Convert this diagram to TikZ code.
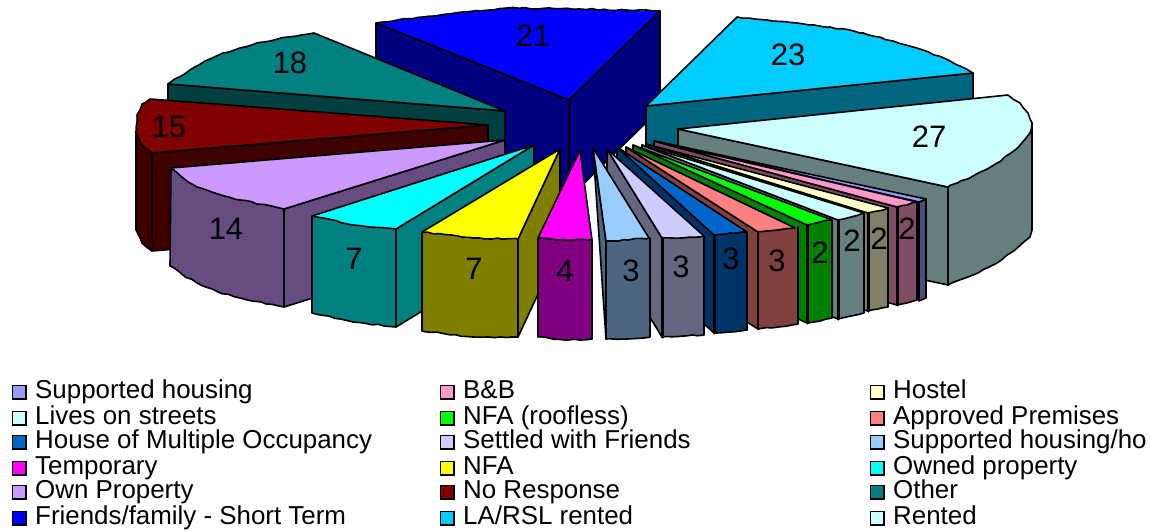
\documentclass[tikz,border=0pt]{standalone}
\usepackage{fontspec}
\usetikzlibrary{decorations.pathmorphing}
\setmainfont{Liberation Sans}
\definecolor{cA}{HTML}{9999FF}\definecolor{cAd}{HTML}{4C4C80}
\definecolor{cB}{HTML}{FF99CC}\definecolor{cBd}{HTML}{804C66}
\definecolor{cC}{HTML}{FFFFCC}\definecolor{cCd}{HTML}{808066}
\definecolor{cD}{HTML}{CCFFFF}\definecolor{cDd}{HTML}{667F7F}
\definecolor{cE}{HTML}{00FF00}\definecolor{cEd}{HTML}{008000}
\definecolor{cF}{HTML}{FF8080}\definecolor{cFd}{HTML}{804040}
\definecolor{cG}{HTML}{0066CC}\definecolor{cGd}{HTML}{003366}
\definecolor{cH}{HTML}{CCCCFF}\definecolor{cHd}{HTML}{666680}
\definecolor{cI}{HTML}{99CCFF}\definecolor{cId}{HTML}{4C6680}
\definecolor{cJ}{HTML}{FF00FF}\definecolor{cJd}{HTML}{800080}
\definecolor{cK}{HTML}{FFFF00}\definecolor{cKd}{HTML}{808000}
\definecolor{cL}{HTML}{00FFFF}\definecolor{cLd}{HTML}{008080}
\definecolor{cM}{HTML}{CC99FF}\definecolor{cMd}{HTML}{664C80}
\definecolor{cN}{HTML}{800000}\definecolor{cNd}{HTML}{400000}
\definecolor{cO}{HTML}{008080}\definecolor{cOd}{HTML}{004040}
\definecolor{cP}{HTML}{0000FF}\definecolor{cPd}{HTML}{000080}
\definecolor{cQ}{HTML}{00CCFF}\definecolor{cQd}{HTML}{006680}
\tikzset{
  wedge/.style={draw=black,line width=1.6pt,line join=round},
  edgeline/.style={draw=black,line width=1.6pt,line join=round,line cap=round},
  jagline/.style={draw=black,line width=1.6pt,line join=round,decorate,decoration={random steps,segment length=6pt,amplitude=.7pt}},
  thickedge/.style={draw=black,line width=3pt,line cap=round},
  val/.style={font=\fontsize{31}{31}\selectfont,inner sep=0pt},
  legbox/.style={draw=black,line width=1.5pt,minimum size=13.5pt,inner sep=0pt},
  legtxt/.style={font=\fontsize{25.9}{26}\selectfont,inner sep=0pt,anchor=base west}
}
% colour, apex, first, arc list, last
\newcommand\topw[5]{%
  \fill[#1] #2 -- plot coordinates {#4} -- cycle;
  \draw[edgeline] #3 -- #2 -- #5;
  \draw[jagline] plot coordinates {#4};}
% colour, top first, top list, top last, bottom under last, bottom list (reversed), bottom under first
\newcommand\outw[7]{%
  \fill[#1] plot coordinates {#3} -- plot coordinates {#6} -- cycle;
  \draw[edgeline] #4 -- #5;
  \draw[edgeline] #7 -- #2;
  \draw[jagline] plot coordinates {#6};}
\begin{document}
\begin{tikzpicture}[x=1pt,y=-1pt]
\pgfmathsetseed{7}
\useasboundingbox (0,0) rectangle (1150,531);
% 21
\fill[wedge,fill=cPd] (376,23)--(569,100)--(569,198)--(376,121)--cycle;
\fill[wedge,fill=cPd] (569,100)--(660,11)--(660,109)--(569,198)--cycle;
\topw{cP}{(569,100)}{(376,23)}{(376,23)(440,15)(507,8)(580,9)(660,11)}{(660,11)}
% 23
\fill[wedge,fill=cQd] (646,106)--(973,73)--(973,171)--(646,204)--cycle;
\topw{cQ}{(646,106)}{(737,17)}{(737,17)(767,20)(797,23)(830,27)(863,33)(893,41)(923,50)(950,61)(973,73)}{(973,73)}
% 27
\fill[wedge,fill=cDd] (678,129)--(948,187)--(948,285)--(678,227)--cycle;
\outw{cDd}{(1032,123)}{(1032,123)(1030,133)(1015,150)(997,163)(973,176)(948,187)}{(948,187)}{(948,285)}{(948,285)(973,275)(997,263)(1015,250)(1030,237)(1032,230)}{(1032,230)}
\topw{cD}{(678,129)}{(1008,95)}{(1008,95)(1020,103)(1028,113)(1032,123)(1030,133)(1015,150)(997,163)(973,176)(948,187)}{(948,187)}
% 18
\fill[wedge,fill=cOd] (168,84)--(505,111)--(505,209)--(168,182)--cycle;
\topw{cO}{(505,111)}{(314,33)}{(314,33)(288,37)(263,42)(223,53)(205,61)(190,70)(168,84)}{(168,84)}
% 15
\fill[wedge,fill=cNd] (152,153)--(488,125)--(488,223)--(152,251)--cycle;
\outw{cNd}{(136,133)}{(136,133)(142,145)(152,153)}{(152,153)}{(152,251)}{(152,251)(142,243)(136,230)}{(136,230)}
\topw{cN}{(488,125)}{(150,99)}{(150,99)(142,104)(137,115)(136,133)(142,145)(152,153)}{(152,153)}
% 14
\fill[wedge,fill=cMd] (284,209)--(505,140)--(505,238)--(284,307)--cycle;
\outw{cMd}{(171,168)}{(171,168)(183,178)(197,187)(218,194)(240,200)(284,209)}{(284,209)}{(284,307)}{(284,307)(240,298)(218,292)(197,283)(183,275)(170,266)}{(170,266)}
\topw{cM}{(505,140)}{(171,168)}{(171,168)(183,178)(197,187)(218,194)(240,200)(284,209)}{(284,209)}
% 7 cyan
\fill[wedge,fill=cLd] (396,229)--(534,145)--(534,243)--(396,327)--cycle;
\outw{cLd}{(312,216)}{(312,216)(353,225)(396,229)}{(396,229)}{(396,327)}{(396,327)(353,322)(312,313)}{(312,313)}
\topw{cL}{(534,145)}{(312,216)}{(312,216)(353,225)(396,229)}{(396,229)}
% 7 yellow
\fill[wedge,fill=cKd] (518,239)--(560,149)--(560,247)--(518,337)--cycle;
\outw{cKd}{(422,232)}{(422,232)(473,238)(518,239)}{(518,239)}{(518,337)}{(518,337)(473,337)(422,331)}{(422,331)}
\topw{cK}{(560,149)}{(422,232)}{(422,232)(473,238)(518,239)}{(518,239)}
% 4
\outw{cJd}{(538,238)}{(538,238)(565,240)(592,240)}{(592,240)}{(592,339)}{(592,339)(565,340)(538,337)}{(538,337)}
\topw{cJ}{(580,150)}{(538,238)}{(538,238)(565,240)(592,240)}{(592,240)}
% small slices, right to left
\fill[wedge,fill=cAd] (919,202)--(926,199)--(926,298)--(919,301)--cycle;
\fill[wedge,fill=cA] (655,141)--(926,199)--(919,202)--cycle;
\fill[wedge,fill=cBd] (654,141)--(897,207)--(897,305)--(654,239)--cycle;
\outw{cBd}{(897,207)}{(897,207)(907,205)(917,202)}{(917,202)}{(917,300)}{(917,300)(907,303)(897,305)}{(897,305)}
\topw{cB}{(654,141)}{(897,207)}{(897,207)(907,205)(917,202)}{(917,202)}
\draw[thickedge] (897,207)--(897,305);
\fill[wedge,fill=cCd] (646,144)--(868,213)--(868,311)--(646,242)--cycle;
\outw{cCd}{(868,213)}{(868,213)(878,211)(888,208)}{(888,208)}{(888,307)}{(888,307)(878,309)(868,311)}{(868,311)}
\topw{cC}{(646,144)}{(868,213)}{(868,213)(878,211)(888,208)}{(888,208)}
\draw[thickedge] (868,213)--(868,311);
\fill[wedge,fill=cDd] (642,145)--(838,220)--(838,319)--(642,243)--cycle;
\outw{cDd}{(838,220)}{(838,220)(851,217)(864,213)}{(864,213)}{(864,313)}{(864,313)(851,316)(838,319)}{(838,319)}
\topw{cD}{(642,145)}{(838,220)}{(838,220)(851,217)(864,213)}{(864,213)}
\draw[thickedge] (838,220)--(838,319);
\fill[wedge,fill=cEd] (633,145)--(807,225)--(807,323)--(633,243)--cycle;
\outw{cEd}{(807,225)}{(807,225)(820,222)(832,220)}{(832,220)}{(832,318)}{(832,318)(820,321)(807,323)}{(807,323)}
\topw{cE}{(633,145)}{(807,225)}{(807,225)(820,222)(832,220)}{(832,220)}
\draw[thickedge] (807,225)--(807,323);
\fill[wedge,fill=cFd] (626,147)--(758,232)--(758,329)--(626,245)--cycle;
\outw{cFd}{(758,232)}{(758,232)(778,230)(798,227)}{(798,227)}{(798,324)}{(798,324)(778,327)(758,329)}{(758,329)}
\topw{cF}{(626,147)}{(758,232)}{(758,232)(778,230)(795,228)}{(795,228)}
\fill[wedge,fill=cGd] (617,147)--(714,235)--(714,333)--(617,245)--cycle;
\outw{cGd}{(714,235)}{(714,235)(730,233)(747,232)}{(747,232)}{(747,330)}{(747,330)(730,332)(714,333)}{(714,333)}
\topw{cG}{(617,147)}{(714,235)}{(714,235)(730,233)(747,232)}{(747,232)}
\draw[thickedge] (714,235)--(714,333);
\fill[wedge,fill=cHd] (607,149)--(662,238)--(662,337)--(607,247)--cycle;
\outw{cHd}{(662,238)}{(662,238)(683,238)(704,236)}{(704,236)}{(704,335)}{(704,335)(683,336)(662,337)}{(662,337)}
\topw{cH}{(607,149)}{(662,238)}{(662,238)(683,238)(704,236)}{(704,236)}
\draw[thickedge] (662,238)--(662,337);
\fill[wedge,fill=cId] (593,148)--(606,241)--(606,339)--cycle;
\outw{cId}{(606,241)}{(606,241)(628,240)(650,238)}{(650,238)}{(650,337)}{(650,337)(628,339)(606,339)}{(606,339)}
\topw{cI}{(593,148)}{(606,241)}{(606,241)(628,240)(649,238)}{(649,238)}
% value labels
\node[val] (v21) at (533,36) {21};
\node[val] (v23) at (788,55) {23};
\node[val] (v27) at (929,137) {27};
\node[val] (v18) at (290,63) {18};
\node[val] (v15) at (169,127) {15};
\node[val] (v14) at (226,229) {14};
\node[val] (v7a) at (354,259) {7};
\node[val] (v7b) at (474,269) {7};
\node[val] (v4) at (565,271) {4};
\node[val] (v3a) at (631,271) {3};
\node[val] (v3b) at (681,267) {3};
\node[val] (v3c) at (731,259) {3};
\node[val] (v3d) at (777,261) {3};
\node[val] (v2a) at (820,253) {2};
\node[val] (v2b) at (852,241) {2};
\node[val] (v2c) at (879,239) {2};
\node[val] (v2d) at (907,229) {2};
% legend
\foreach \n/\y/\b/\c/\t in {a/392/398.3/cA/Supported housing,b/418/424.3/cD/Lives on streets,c/442/448.3/cG/House of Multiple Occupancy,d/468/474.3/cJ/Temporary,e/492/498.3/cM/Own Property,f/518/524/cP/Friends\slash family - Short Term}{
  \node[legbox,fill=\c] (bx1\n) at (19,\y) {};
  \node[legtxt] (tx1\n) at (35,\b) {\t};
}
\foreach \n/\y/\b/\c/\t in {a/392/398.3/cB/B\&B,b/418/424.3/cE/NFA (roofless),c/442/448.3/cH/Settled with Friends,d/468/474.3/cK/NFA,e/492/498.3/cN/No Response,f/518/524/cQ/LA\slash RSL rented}{
  \node[legbox,fill=\c] (bx2\n) at (447,\y) {};
  \node[legtxt] (tx2\n) at (463,\b) {\t};
}
\foreach \n/\y/\b/\c/\t in {a/392/398.3/cC/Hostel,b/418/424.3/cF/Approved Premises,c/442/448.3/cI/Supported housing\slash ho,d/468/474.3/cL/Owned property,e/492/498.3/cO/Other,f/518/524/cD/Rented}{
  \node[legbox,fill=\c] (bx3\n) at (877,\y) {};
  \node[legtxt] (tx3\n) at (893,\b) {\t};
}
\end{tikzpicture}
\end{document}
